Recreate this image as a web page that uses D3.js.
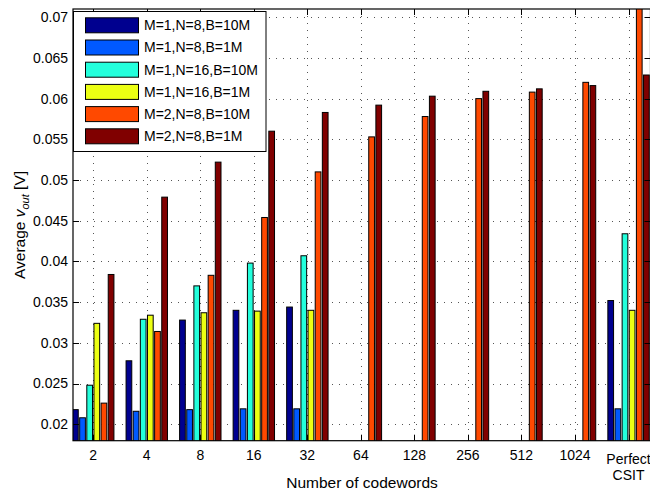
<!DOCTYPE html>
<html>
<head>
<meta charset="utf-8">
<script src="https://cdn.jsdelivr.net/npm/d3@7"></script>
<style>
  body { margin: 0; background: #fff; }
  svg { display: block; font-family: "Liberation Sans", Arial, sans-serif; }
</style>
</head>
<body>
<div id="root"></div>
<script>
// category labels on the x axis
const categories = ['2', '4', '8', '16', '32', '64', '128', '256', '512', '1024', 'Perfect CSIT'];

// series names, in legend order
const seriesNames = [
  'M=1,N=8,B=10M',
  'M=1,N=8,B=1M',
  'M=1,N=16,B=10M',
  'M=1,N=16,B=1M',
  'M=2,N=8,B=10M',
  'M=2,N=8,B=1M',
];

// average v_out per series (null = no bar)
const m1n8b10 = [0.0218, 0.0278, 0.0328, 0.0340, 0.0344, null, null, null, null, null, 0.0352];
const m1n8b1 = [0.0208, 0.0216, 0.0218, 0.0219, 0.0219, null, null, null, null, null, 0.0219];
const m1n16b10 = [0.0248, 0.0329, 0.0370, 0.0398, 0.0407, null, null, null, null, null, 0.0434];
const m1n16b1 = [0.0324, 0.0334, 0.0337, 0.0339, 0.0340, null, null, null, null, null, 0.0340];
const m2n8b10 = [0.0226, 0.0314, 0.0383, 0.0454, 0.0510, 0.0553, 0.0578, 0.0600, 0.0608, 0.0620, 0.0760];
const m2n8b1 = [0.0384, 0.0479, 0.0522, 0.0560, 0.0583, 0.0592, 0.0603, 0.0609, 0.0612, 0.0616, 0.0629];

const yTicks = [0.02, 0.025, 0.03, 0.035, 0.04, 0.045, 0.05, 0.055, 0.06, 0.065, 0.07];

const series = [m1n8b10, m1n8b1, m1n16b10, m1n16b1, m2n8b10, m2n8b1];
// jet colormap picks for 6 series
const colors = ['#00008f', '#0059ff', '#23ffdc', '#ecff13', '#ff4900', '#800000'];

const width = 650;
const height = 491;
const plotLeft = 73;
const plotRight = 650.5;
const plotTop = 9;
const plotBottom = 440.7;

const svg = d3.select('#root').append('svg')
  .attr('width', width)
  .attr('height', height);

const xScale = d3.scaleLinear().domain([0.622, 11.41]).range([plotLeft, plotRight]);
const yScale = d3.scaleLinear().domain([0.017985, 0.071007]).range([plotBottom, plotTop]);

const groupWidth = 0.8;
const pitch = groupWidth / series.length;
const barWidth = pitch * 0.8;

svg.append('defs').append('clipPath').attr('id', 'plot')
  .append('rect')
  .attr('x', plotLeft).attr('y', plotTop)
  .attr('width', plotRight - plotLeft).attr('height', plotBottom - plotTop);

// grid
const grid = svg.append('g')
  .attr('stroke', '#555')
  .attr('stroke-width', 1)
  .attr('stroke-dasharray', '1,6');

grid.selectAll('line.h')
  .data(yTicks)
  .enter()
  .append('line')
  .attr('x1', plotLeft).attr('x2', plotRight)
  .attr('y1', d => Math.round(yScale(d)) + 0.5)
  .attr('y2', d => Math.round(yScale(d)) + 0.5);

grid.selectAll('line.v')
  .data(categories)
  .enter()
  .append('line')
  .attr('y1', plotTop).attr('y2', plotBottom)
  .attr('x1', (d, i) => Math.round(xScale(i + 1)) + 0.5)
  .attr('x2', (d, i) => Math.round(xScale(i + 1)) + 0.5);

// bars
const bars = svg.append('g').attr('clip-path', 'url(#plot)');

series.forEach((values, s) => {
  const offset = (s - (series.length - 1) / 2) * pitch;
  bars.append('g')
    .selectAll('rect')
    .data(values.map((v, i) => ({ v, i })).filter(d => d.v !== null))
    .enter()
    .append('rect')
    .attr('x', d => xScale(d.i + 1 + offset - barWidth / 2))
    .attr('width', xScale(barWidth) - xScale(0))
    .attr('y', d => yScale(d.v))
    .attr('height', d => yScale.range()[0] - yScale(d.v) + 2)
    .attr('fill', colors[s])
    .attr('stroke', '#000')
    .attr('stroke-width', 1);
});

// axes box and inward ticks
const axes = svg.append('g').attr('stroke', '#000').attr('fill', 'none');
axes.append('rect')
  .attr('x', plotLeft).attr('y', plotTop)
  .attr('width', plotRight - plotLeft).attr('height', plotBottom - plotTop)
  .attr('stroke-width', 1.2);

yTicks.forEach(t => {
  const y = Math.round(yScale(t)) + 0.5;
  axes.append('line').attr('x1', plotLeft).attr('x2', plotLeft + 6).attr('y1', y).attr('y2', y);
  axes.append('line').attr('x1', plotRight - 6).attr('x2', plotRight).attr('y1', y).attr('y2', y);
});
categories.forEach((c, i) => {
  const x = Math.round(xScale(i + 1)) + 0.5;
  axes.append('line').attr('x1', x).attr('x2', x).attr('y1', plotBottom).attr('y2', plotBottom - 6);
  axes.append('line').attr('x1', x).attr('x2', x).attr('y1', plotTop).attr('y2', plotTop + 6);
});

// tick labels
svg.append('g')
  .selectAll('text')
  .data(yTicks)
  .enter()
  .append('text')
  .attr('x', plotLeft - 5)
  .attr('y', d => yScale(d))
  .attr('dy', '0.35em')
  .attr('text-anchor', 'end')
  .attr('font-size', 14)
  .text(d => d);

const xLabels = svg.append('g')
  .selectAll('text')
  .data(categories)
  .enter()
  .append('text')
  .attr('text-anchor', 'middle')
  .attr('font-size', 14)
  .attr('x', (d, i) => xScale(i + 1));

xLabels.each(function(d) {
  const words = d.split(' ');
  const t = d3.select(this);
  if (words.length === 1) {
    t.attr('y', 460).text(d);
  } else {
    words.forEach((w, k) => {
      t.append('tspan')
        .attr('x', t.attr('x'))
        .attr('y', 463.5 + k * 16.5)
        .text(w);
    });
  }
});

// axis titles
svg.append('text')
  .attr('x', 362)
  .attr('y', 488)
  .attr('text-anchor', 'middle')
  .attr('font-size', 15.5)
  .text('Number of codewords');

const yTitle = svg.append('text')
  .attr('transform', 'translate(25,225) rotate(-90)')
  .attr('text-anchor', 'middle')
  .attr('font-size', 15.5);
yTitle.append('tspan').text('Average ');
yTitle.append('tspan').attr('font-style', 'italic').text('v');
yTitle.append('tspan').attr('font-style', 'italic').attr('font-size', 11).attr('dy', 4).text('out');
yTitle.append('tspan').attr('dy', -4).text(' [V]');

// legend
const legend = svg.append('g');
legend.append('rect')
  .attr('x', 73.5).attr('y', 11.5)
  .attr('width', 192.5).attr('height', 140)
  .attr('fill', '#fff')
  .attr('stroke', '#000');

const rows = legend.selectAll('g.row')
  .data(seriesNames)
  .enter()
  .append('g')
  .attr('class', 'row')
  .attr('transform', (d, i) => `translate(0 ${17.3 + i * 22.2})`);

rows.append('rect')
  .attr('x', 85.5).attr('y', 0.5)
  .attr('width', 53).attr('height', 15)
  .attr('fill', (d, i) => colors[i])
  .attr('stroke', '#000');

rows.append('text')
  .attr('x', 144)
  .attr('y', 8)
  .attr('dy', '0.35em')
  .attr('font-size', 14)
  .text(d => d);
</script>
</body>
</html>
